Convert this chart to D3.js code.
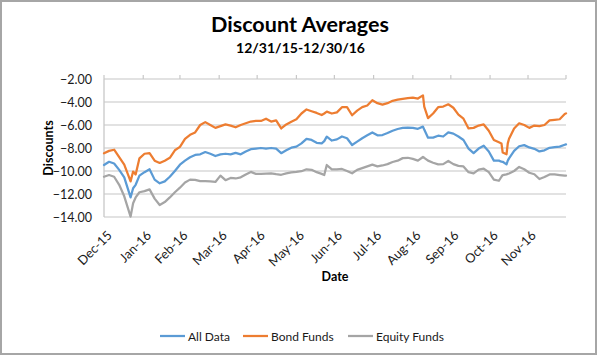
<!DOCTYPE html>
<html>
<head>
<meta charset="utf-8">
<script src="https://cdn.jsdelivr.net/npm/d3@7"></script>
<style>
  html, body { margin: 0; padding: 0; background: #fff; }
  svg { display: block; }
  text { font-family: Lato, "Open Sans", "DejaVu Sans", sans-serif; }
</style>
</head>
<body>
<svg id="chart" width="598" height="356"></svg>
<script>
// ---- data ----
const dates = [
"2015-12-31","2016-01-04","2016-01-08","2016-01-12","2016-01-16","2016-01-21","2016-01-23","2016-01-25","2016-01-28","2016-02-01",
"2016-02-05","2016-02-09","2016-02-13","2016-02-17","2016-02-21","2016-02-25","2016-02-29","2016-03-04","2016-03-08","2016-03-12",
"2016-03-16","2016-03-20","2016-03-24","2016-03-28","2016-04-01","2016-04-05","2016-04-09","2016-04-13","2016-04-17","2016-04-21",
"2016-04-25","2016-04-29","2016-05-03","2016-05-07","2016-05-11","2016-05-15","2016-05-19","2016-05-23","2016-05-27","2016-05-31",
"2016-06-04","2016-06-08","2016-06-12","2016-06-16","2016-06-20","2016-06-22","2016-06-24","2016-06-28","2016-07-02","2016-07-06",
"2016-07-10","2016-07-14","2016-07-18","2016-07-22","2016-07-26","2016-07-30","2016-08-03","2016-08-07","2016-08-11","2016-08-15",
"2016-08-19","2016-08-23","2016-08-27","2016-08-31","2016-09-04","2016-09-08","2016-09-09","2016-09-12","2016-09-16","2016-09-20",
"2016-09-24","2016-09-28","2016-10-02","2016-10-06","2016-10-10","2016-10-14","2016-10-18","2016-10-22","2016-10-26","2016-10-30",
"2016-11-03","2016-11-07","2016-11-09","2016-11-10","2016-11-13","2016-11-14","2016-11-15","2016-11-19","2016-11-23","2016-11-27",
"2016-12-01","2016-12-05","2016-12-09","2016-12-13","2016-12-17","2016-12-21","2016-12-25","2016-12-29","2016-12-30"
];

const allData = [
-9.48,-9.2,-9.35,-9.9,-10.55,-12.3,-11.5,-11.2,-10.4,-10.1,
-9.85,-10.75,-11.07,-10.9,-10.5,-10.0,-9.45,-9.1,-8.8,-8.6,
-8.55,-8.35,-8.5,-8.7,-8.55,-8.5,-8.55,-8.42,-8.55,-8.3,
-8.1,-8.05,-8.0,-8.05,-8.0,-8.05,-8.45,-8.2,-7.97,-7.88,
-7.6,-7.2,-7.3,-7.55,-7.6,-7.4,-7.01,-7.35,-7.25,-7.0,
-7.15,-7.74,-7.45,-7.15,-6.9,-6.65,-6.9,-6.87,-6.7,-6.5,
-6.35,-6.25,-6.22,-6.25,-6.33,-6.14,-6.4,-7.1,-7.1,-6.93,
-7.0,-6.64,-6.75,-7.0,-7.3,-8.05,-8.45,-8.05,-7.8,-8.3,
-9.1,-9.1,-9.19,-9.2,-9.42,-9.1,-8.9,-8.25,-7.85,-7.75,
-7.95,-8.07,-8.3,-8.2,-7.98,-7.93,-7.88,-7.72,-7.68
];

const bondFunds = [
-8.46,-8.25,-8.15,-8.8,-9.45,-10.9,-10.05,-10.3,-8.9,-8.5,
-8.45,-9.1,-9.3,-9.1,-8.85,-8.2,-7.9,-7.2,-6.85,-6.65,
-6.0,-5.75,-6.0,-6.25,-6.1,-5.95,-6.05,-6.2,-6.0,-5.85,
-5.7,-5.65,-5.65,-5.45,-5.7,-5.6,-6.3,-5.95,-5.71,-5.5,
-5.0,-4.65,-4.8,-4.95,-5.13,-5.0,-4.84,-5.0,-4.9,-4.45,
-4.45,-5.15,-4.75,-4.45,-4.3,-3.85,-4.1,-4.23,-4.1,-3.9,
-3.8,-3.72,-3.67,-3.62,-3.7,-3.42,-4.4,-5.4,-5.0,-4.45,
-4.4,-4.2,-4.5,-5.1,-5.45,-6.3,-6.25,-6.05,-5.95,-6.5,
-7.3,-7.5,-7.6,-8.4,-8.55,-7.6,-7.2,-6.3,-5.85,-6.0,
-6.25,-6.05,-6.1,-6.0,-5.6,-5.55,-5.5,-5.05,-4.99
];

const equityFunds = [
-10.5,-10.35,-10.5,-11.2,-12.2,-13.97,-12.8,-12.3,-11.85,-11.75,
-11.6,-12.4,-12.96,-12.7,-12.3,-11.85,-11.45,-11.0,-10.75,-10.78,
-10.88,-10.87,-10.9,-10.95,-10.4,-10.8,-10.6,-10.65,-10.55,-10.3,
-10.08,-10.25,-10.25,-10.22,-10.2,-10.28,-10.33,-10.2,-10.12,-10.08,
-10.02,-9.85,-9.9,-10.1,-10.25,-10.35,-9.48,-9.85,-9.85,-9.82,
-10.0,-10.2,-9.9,-9.75,-9.6,-9.45,-9.6,-9.52,-9.4,-9.22,
-9.1,-8.88,-8.85,-8.95,-9.1,-8.78,-8.85,-9.1,-9.28,-9.42,
-9.4,-9.13,-9.4,-9.55,-9.6,-10.1,-10.2,-9.88,-9.8,-10.1,
-10.75,-10.85,-10.5,-10.35,-10.29,-10.25,-10.22,-10.0,-9.65,-9.85,
-10.15,-10.28,-10.7,-10.52,-10.3,-10.3,-10.35,-10.4,-10.41
];

const seriesNames = ["All Data", "Bond Funds", "Equity Funds"];
const seriesColors = ["#5B9BD5", "#ED7D31", "#A5A5A5"];
const yTicks = [-2, -4, -6, -8, -10, -12, -14];
const monthTicks = ["2015-12-31","2016-01-31","2016-02-29","2016-03-31","2016-04-30","2016-05-31",
                    "2016-06-30","2016-07-31","2016-08-31","2016-09-30","2016-10-31","2016-11-30"];
const domainDates = ["2015-12-31", "2016-12-30"];
const titleText = "Discount Averages";
const subtitleText = "12/31/15-12/30/16";
const yTitle = "Discounts";
const xTitle = "Date";

// ---- drawing ----
const parse = d3.timeParse("%Y-%m-%d");
const fmt = d3.timeFormat("%b-%y");
const svg = d3.select("#chart");

const plot = { left: 104, right: 566, top: 79, bottom: 217 };

const x = d3.scaleTime().domain(domainDates.map(parse)).range([plot.left, plot.right]);
const y = d3.scaleLinear().domain([-14, -2]).range([plot.bottom, plot.top]);

// outer border
svg.append("rect").attr("x", 1).attr("y", 1).attr("width", 595).attr("height", 353)
  .attr("fill", "#fff").attr("stroke", "#a6a6a6").attr("stroke-width", 2);

// gridlines
svg.append("g").selectAll("line").data(yTicks).join("line")
  .attr("x1", plot.left).attr("x2", plot.right)
  .attr("y1", d => y(d)).attr("y2", d => y(d))
  .attr("stroke", "#d9d9d9").attr("stroke-width", 1.6);

// y axis line
svg.append("line").attr("x1", plot.left).attr("x2", plot.left)
  .attr("y1", plot.top).attr("y2", plot.bottom)
  .attr("stroke", "#c8c8c8").attr("stroke-width", 1.3);

// y tick labels
const yAxis = d3.axisLeft(y).tickValues(yTicks).tickFormat(d3.format(".2f")).tickSize(0).tickPadding(12);
const gy = svg.append("g").attr("transform", `translate(${plot.left},0)`).call(yAxis);
gy.select(".domain").remove();
gy.selectAll("text").attr("font-size", 12.5).attr("fill", "#1a1a1a")
  .style("font-family", "Lato, 'Open Sans', sans-serif");

// top tick marks for date axis (axis crosses at top)
const tickDates = monthTicks.map(parse);
svg.append("g").selectAll("line").data(tickDates.concat([parse(domainDates[1])])).join("line")
  .attr("x1", d => x(d)).attr("x2", d => x(d))
  .attr("y1", plot.top - 4).attr("y2", plot.top)
  .attr("stroke", "#c8c8c8").attr("stroke-width", 1.2);

// x tick labels (rotated, at bottom)
svg.append("g").selectAll("text").data(tickDates).join("text")
  .attr("transform", d => `translate(${x(d) + 5.5},${233}) rotate(-45)`)
  .attr("text-anchor", "end").attr("dy", "0.35em")
  .attr("font-size", 12.8).attr("fill", "#1a1a1a")
  .text(d => fmt(d));

// lines
const seriesData = [allData, bondFunds, equityFunds];
const line = d3.line().x((d, i) => x(parse(dates[i]))).y(d => y(d)).curve(d3.curveLinear);
svg.append("g").selectAll("path").data(seriesData).join("path")
  .attr("d", d => line(d))
  .attr("fill", "none")
  .attr("stroke", (d, i) => seriesColors[i])
  .attr("stroke-width", 2.25)
  .attr("stroke-linejoin", "round").attr("stroke-linecap", "round");

// titles
function fitWidth(sel, w) {
  const n = sel.node();
  const fs = parseFloat(sel.attr("font-size"));
  const l = n.getComputedTextLength();
  if (l > 0) sel.attr("font-size", fs * w / l);
}
const t1 = svg.append("text").attr("x", 300).attr("y", 32).attr("text-anchor", "middle")
  .attr("font-size", 20).attr("font-weight", "bold").attr("fill", "#000").text(titleText);
fitWidth(t1, 178);
const t2 = svg.append("text").attr("x", 300.5).attr("y", 52.5).attr("text-anchor", "middle")
  .attr("font-size", 14).attr("font-weight", "bold").attr("fill", "#000").text(subtitleText);
fitWidth(t2, 129);

svg.append("text").attr("transform", `translate(52.5,${(plot.top + plot.bottom) / 2}) rotate(-90)`)
  .attr("text-anchor", "middle").attr("font-size", 12.5).attr("font-weight", "bold")
  .attr("fill", "#000").text(yTitle);

svg.append("text").attr("x", (plot.left + plot.right) / 2).attr("y", 281)
  .attr("text-anchor", "middle").attr("font-size", 12.5).attr("font-weight", "bold")
  .attr("fill", "#000").text(xTitle);

// legend
const legendX = [160, 243, 348];
const lg = svg.append("g").selectAll("g").data(seriesNames).join("g")
  .attr("transform", (d, i) => `translate(${legendX[i]},336)`);
lg.append("line").attr("x1", 0).attr("x2", 25).attr("y1", 0).attr("y2", 0)
  .attr("stroke", (d, i) => seriesColors[i]).attr("stroke-width", 2.25);
lg.append("text").attr("x", 28).attr("y", 4.5).attr("font-size", 12).attr("fill", "#1a1a1a")
  .text(d => d);
</script>
</body>
</html>
